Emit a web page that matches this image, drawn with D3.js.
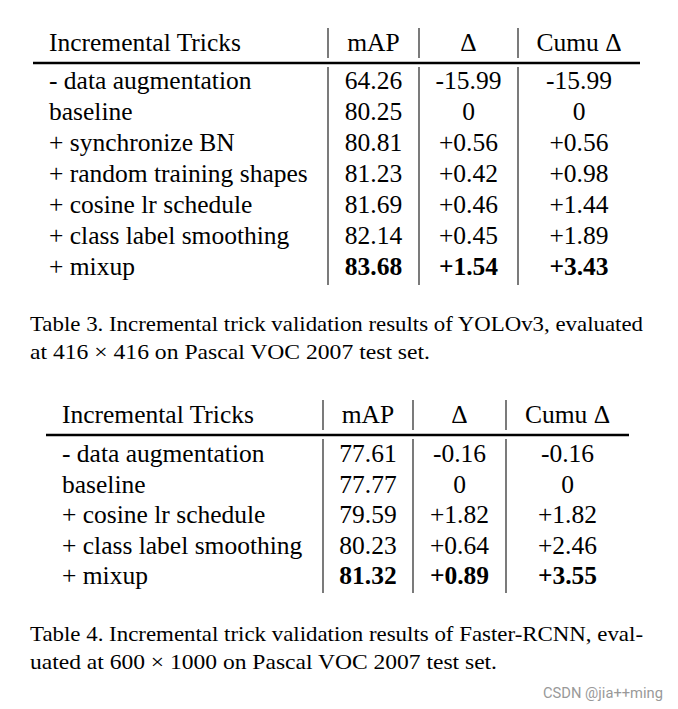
<!DOCTYPE html>
<html>
<head>
<meta charset="utf-8">
<script src="https://cdn.jsdelivr.net/npm/d3@7/dist/d3.min.js"></script>
<style>
  html, body { margin: 0; padding: 0; background: #fff; }
  svg { display: block; }
</style>
</head>
<body>
<svg id="chart" width="678" height="709"></svg>
<script>
// ---- data ----
const headers = ["Incremental Tricks", "mAP", "\u0394", "Cumu \u0394"];

const yoloTricks = ["- data augmentation", "baseline", "+ synchronize BN", "+ random training shapes",
                    "+ cosine lr schedule", "+ class label smoothing", "+ mixup"];
const yoloMAP    = ["64.26", "80.25", "80.81", "81.23", "81.69", "82.14", "83.68"];
const yoloDelta  = ["-15.99", "0", "+0.56", "+0.42", "+0.46", "+0.45", "+1.54"];
const yoloCumu   = ["-15.99", "0", "+0.56", "+0.98", "+1.44", "+1.89", "+3.43"];
const yoloCaption = ["Table 3. Incremental trick validation results of YOLOv3, evaluated",
                     "at 416 \u00d7 416 on Pascal VOC 2007 test set."];

const rcnnTricks = ["- data augmentation", "baseline", "+ cosine lr schedule", "+ class label smoothing", "+ mixup"];
const rcnnMAP    = ["77.61", "77.77", "79.59", "80.23", "81.32"];
const rcnnDelta  = ["-0.16", "0", "+1.82", "+0.64", "+0.89"];
const rcnnCumu   = ["-0.16", "0", "+1.82", "+2.46", "+3.55"];
const rcnnCaption = ["Table 4. Incremental trick validation results of Faster-RCNN, eval-",
                     "uated at 600 \u00d7 1000 on Pascal VOC 2007 test set."];

const watermark = "CSDN @jia++ming";

// ---- drawing ----
const svg = d3.select("#chart");
const SERIF = "'Liberation Serif', 'Times New Roman', serif";

function drawTable(cfg) {
  const g = svg.append("g");
  const nRows = cfg.tricks.length;
  const rows = d3.range(nRows);
  const y = d3.scaleLinear().domain([0, nRows - 1]).range([cfg.firstBase, cfg.lastBase]);

  const edges = [cfg.left].concat(cfg.dividers).concat([cfg.right]);
  const colCenter = i => (edges[i] + edges[i + 1]) / 2;

  g.selectAll("text.h").data(headers).join("text")
    .attr("x", (d, i) => i === 0 ? cfg.textLeft : colCenter(i))
    .attr("y", cfg.headBase)
    .attr("text-anchor", (d, i) => i === 0 ? "start" : "middle")
    .attr("font-family", SERIF).attr("font-size", cfg.fontSize).attr("fill", "#000")
    .text(d => d);

  g.append("line")
    .attr("x1", cfg.left).attr("x2", cfg.right)
    .attr("y1", cfg.rule).attr("y2", cfg.rule)
    .attr("stroke", "#000").attr("stroke-width", 2.4);

  cfg.dividers.forEach(xd => {
    g.append("line").attr("x1", xd).attr("x2", xd)
      .attr("y1", cfg.headTop).attr("y2", cfg.headBottom)
      .attr("stroke", "#222").attr("stroke-width", 1.2);
    g.append("line").attr("x1", xd).attr("x2", xd)
      .attr("y1", cfg.bodyTop).attr("y2", cfg.bodyBottom)
      .attr("stroke", "#222").attr("stroke-width", 1.2);
  });

  const cols = [cfg.tricks, cfg.map, cfg.delta, cfg.cumu];
  cols.forEach((arr, ci) => {
    g.selectAll("text.c" + ci).data(rows).join("text")
      .attr("x", ci === 0 ? cfg.textLeft : colCenter(ci))
      .attr("y", r => y(r))
      .attr("text-anchor", ci === 0 ? "start" : "middle")
      .attr("font-family", SERIF).attr("font-size", cfg.fontSize).attr("fill", "#000")
      .attr("font-weight", r => (ci > 0 && r === nRows - 1) ? "bold" : "normal")
      .text(r => arr[r]);
  });

  g.selectAll("text.cap").data(cfg.caption).join("text")
    .attr("x", 30)
    .attr("y", (d, i) => cfg.capBase[i])
    .attr("font-family", SERIF).attr("font-size", 21.5).attr("fill", "#000")
    .attr("textLength", (d, i) => cfg.capLen[i])
    .attr("lengthAdjust", "spacingAndGlyphs")
    .text(d => d);
}

drawTable({
  tricks: yoloTricks, map: yoloMAP, delta: yoloDelta, cumu: yoloCumu, caption: yoloCaption,
  left: 33, right: 640, dividers: [328, 419, 518], textLeft: 49,
  headBase: 50.5, rule: 63, headTop: 28, headBottom: 58, bodyTop: 67, bodyBottom: 285,
  firstBase: 89, lastBase: 274.5, fontSize: 25.5,
  capBase: [330.5, 358.5], capLen: [613, 400]
});

drawTable({
  tricks: rcnnTricks, map: rcnnMAP, delta: rcnnDelta, cumu: rcnnCumu, caption: rcnnCaption,
  left: 46, right: 629, dividers: [323, 413, 506], textLeft: 62,
  headBase: 422.5, rule: 435, headTop: 400, headBottom: 430, bodyTop: 439, bodyBottom: 593,
  firstBase: 462, lastBase: 584, fontSize: 25.5,
  capBase: [640.5, 668.5], capLen: [613, 467]
});

svg.append("text")
  .attr("x", 663).attr("y", 698)
  .attr("text-anchor", "end")
  .attr("font-family", "Roboto, 'Noto Sans', sans-serif")
  .attr("font-size", 14).attr("fill", "#999")
  .attr("textLength", 120).attr("lengthAdjust", "spacingAndGlyphs")
  .text(watermark);
</script>
</body>
</html>
